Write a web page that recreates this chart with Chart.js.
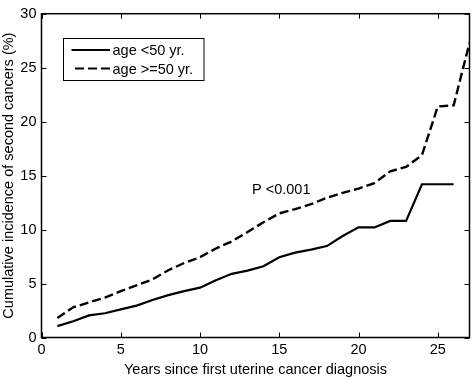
<!DOCTYPE html>
<html lang="en">
<head>
  <meta charset="UTF-8">
  <title>Cumulative incidence of second cancers</title>
  <script src="https://cdn.jsdelivr.net/npm/chart.js"></script>
  <style>
    html, body { margin: 0; padding: 0; background: #fff; }
    #wrap { width: 472px; height: 379px; position: relative; }
  </style>
</head>
<body>
  <div id="wrap"><canvas id="incidence-chart"></canvas></div>
  <script>
    // values, one per year since diagnosis
    const yearsYoung = [1, 2, 3, 4, 5, 6, 7, 8, 9, 10, 11, 12, 13, 14, 15, 16, 17, 18, 19, 20, 21, 22, 23, 24, 25, 26];
    const incidenceYoung = [1.05, 1.5, 2.05, 2.25, 2.6, 2.95, 3.47, 3.93, 4.3, 4.62, 5.3, 5.9, 6.2, 6.6, 7.44, 7.86, 8.14, 8.47, 9.4, 10.2, 10.2, 10.8, 10.8, 14.2, 14.2, 14.2];
    const yearsOld = [1, 2, 3, 4, 5, 6, 7, 8, 9, 10, 11, 12, 13, 14, 15, 16, 17, 18, 19, 20, 21, 22, 23, 24, 25, 26, 27];
    const incidenceOld = [1.8, 2.8, 3.25, 3.7, 4.3, 4.83, 5.38, 6.23, 6.9, 7.44, 8.25, 8.9, 9.77, 10.68, 11.5, 11.9, 12.35, 12.95, 13.4, 13.8, 14.3, 15.4, 15.8, 16.9, 21.4, 21.5, 27.3];
    const seriesLabels = ['age <50 yr.', 'age >=50 yr.'];
    const xTicks = [0, 5, 10, 15, 20, 25];
    const yTicks = [0, 5, 10, 15, 20, 25, 30];
    const pValueText = 'P <0.001';

    const FONT = "'Liberation Sans', Arial, Helvetica, sans-serif";
    const DASH = [9, 4];

    const toPoints = (xs, ys) => xs.map((x, i) => ({ x, y: ys[i] }));

    // matlab style frame: box all round, ticks pointing inward on all four sides
    const framePlugin = {
      id: 'frame',
      afterDraw(chart) {
        const { ctx, chartArea: a, scales: { x, y } } = chart;
        ctx.save();
        ctx.strokeStyle = '#000';
        ctx.lineWidth = 1.5;
        ctx.strokeRect(a.left, a.top, a.right - a.left, a.bottom - a.top);
        ctx.lineWidth = 1;
        ctx.beginPath();
        xTicks.forEach(v => {
          const px = Math.round(x.getPixelForValue(v)) + 0.5;
          ctx.moveTo(px, a.bottom); ctx.lineTo(px, a.bottom - 5);
          ctx.moveTo(px, a.top); ctx.lineTo(px, a.top + 5);
        });
        yTicks.forEach(v => {
          const py = Math.round(y.getPixelForValue(v)) + 0.5;
          ctx.moveTo(a.left, py); ctx.lineTo(a.left + 5, py);
          ctx.moveTo(a.right, py); ctx.lineTo(a.right - 5, py);
        });
        ctx.stroke();

        // legend box
        ctx.fillStyle = '#fff';
        ctx.fillRect(63.5, 38, 140.5, 42);
        ctx.lineWidth = 1;
        ctx.strokeRect(63.5, 38.5, 140.5, 42);
        ctx.font = '14.5px ' + FONT;
        ctx.fillStyle = '#000';
        ctx.textBaseline = 'middle';
        chart.data.datasets.forEach((ds, i) => {
          const ly = 50 + i * 18.5;
          ctx.beginPath();
          ctx.lineWidth = 2;
          ctx.setLineDash(ds.borderDash || []);
          ctx.moveTo(i ? 75 : 71.5, ly);
          ctx.lineTo(110, ly);
          ctx.stroke();
          ctx.setLineDash([]);
          ctx.fillText(ds.label, 112.5, ly + 1);
        });

        // p-value note
        ctx.font = '14.5px ' + FONT;
        ctx.fillText(pValueText, 252, 189.5);
        ctx.restore();
      }
    };

    new Chart(document.getElementById('incidence-chart'), {
      type: 'line',
      data: {
        datasets: [
          { label: seriesLabels[0], data: toPoints(yearsYoung, incidenceYoung), borderColor: '#000', borderWidth: 2.2, pointRadius: 0, tension: 0 },
          { label: seriesLabels[1], data: toPoints(yearsOld, incidenceOld), borderColor: '#000', borderWidth: 2.4, borderDash: DASH, pointRadius: 0, tension: 0 }
        ]
      },
      options: {
        responsive: true,
        maintainAspectRatio: false,
        animation: false,
        layout: { padding: { top: 7.5, right: 2.5, left: 0, bottom: 0 } },
        plugins: { legend: { display: false }, tooltip: { enabled: false } },
        scales: {
          x: {
            type: 'linear', min: 0, max: 27,
            afterBuildTicks: s => { s.ticks = xTicks.map(v => ({ value: v })); },
            afterFit: s => { s.height = 41.5; },
            grid: { display: false, drawTicks: false },
            border: { display: false },
            ticks: { color: '#000', padding: 4, maxRotation: 0, font: { family: FONT, size: 14.5 } },
            title: { display: true, text: 'Years since first uterine cancer diagnosis', color: '#000', padding: { top: 0, bottom: 0 }, font: { family: FONT, size: 14.5 } }
          },
          y: {
            min: 0, max: 30,
            afterBuildTicks: s => { s.ticks = yTicks.map(v => ({ value: v })); },
            afterFit: s => { s.width = 41.5; },
            grid: { display: false, drawTicks: false },
            border: { display: false },
            ticks: { color: '#000', padding: 5, font: { family: FONT, size: 14.5 } },
            title: { display: true, text: 'Cumulative incidence of second cancers (%)', color: '#000', padding: 0, font: { family: FONT, size: 14.5 } }
          }
        }
      },
      plugins: [framePlugin]
    });
  </script>
</body>
</html>
